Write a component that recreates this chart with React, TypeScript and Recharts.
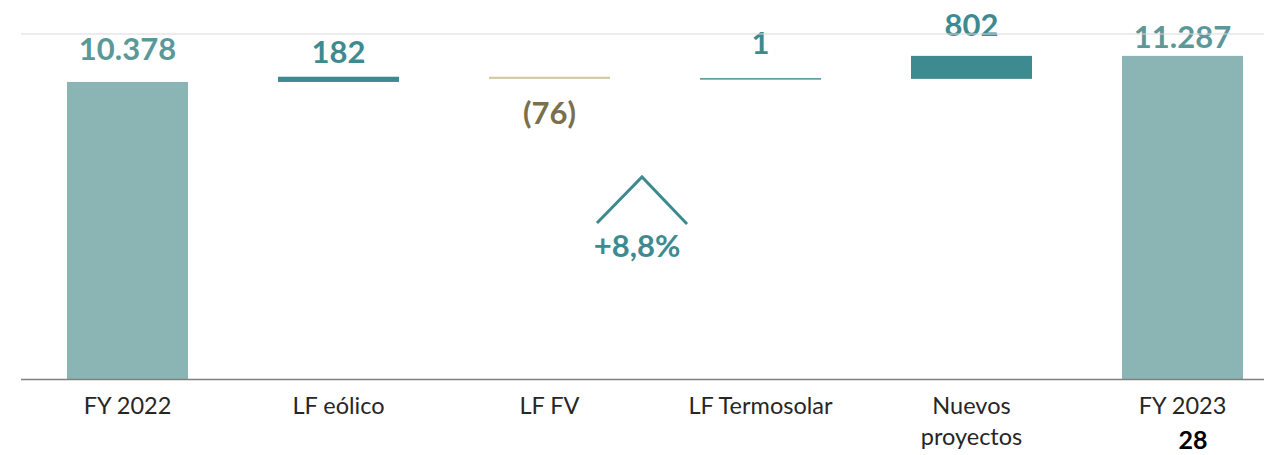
import { BarChart, Bar, XAxis, YAxis, ReferenceLine } from 'recharts';

// waterfall: capacidad instalada FY 2022 -> FY 2023
const categories = ['FY 2022', 'LF eólico', 'LF FV', 'LF Termosolar', 'Nuevos\nproyectos', 'FY 2023'];
const values = [10378, 182, -76, 1, 802, 11287];
const kinds = ['total', 'delta', 'delta', 'delta', 'delta', 'total'];
const growthLabel = '+8,8%';
const pageNumber = '28';

const FONT = "Lato, 'Open Sans', sans-serif";
const TEAL = '#3e8a91';
const TOTAL_FILL = '#8bb5b5';
const TOTAL_TEXT = '#5b9898';
const NEG_FILL = '#d1c9a3';
const NEG_TEXT = '#7a7049';

// label distance from bar edge, per category
const LABEL_GAP = [22, 14, 45, 24, 20, 8];

let running = 0;
const rows = categories.map((name, i) => {
  const v = values[i];
  let range: [number, number];
  if (kinds[i] === 'total') {
    range = [0, v];
    running = v;
  } else {
    const next = running + v;
    range = [Math.min(running, next), Math.max(running, next)];
    running = next;
  }
  return { name, value: v, kind: kinds[i], range };
});

const fmt = (v: number) => {
  const s = Math.abs(v).toString().replace(/\B(?=(\d{3})+(?!\d))/g, '.');
  return v < 0 ? `(${s})` : s;
};

const WaterfallBar = (props: any) => {
  const { x, y, width, height, index, payload } = props;
  const top = Math.min(y, y + height);
  const h = Math.max(Math.abs(height), 1.4);
  const cy = top + Math.abs(height) / 2;
  const ry = cy - h / 2;
  const neg = payload.value < 0;
  const total = payload.kind === 'total';
  const fill = total ? TOTAL_FILL : neg ? NEG_FILL : TEAL;
  const color = total ? TOTAL_TEXT : neg ? NEG_TEXT : TEAL;
  const ly = neg ? ry + h + LABEL_GAP[index] : ry - LABEL_GAP[index];
  return (
    <g>
      <rect x={x} y={ry} width={width} height={h} fill={fill} />
      <text
        x={x + width / 2}
        y={ly}
        textAnchor="middle"
        fontFamily={FONT}
        fontWeight={700}
        fontSize={31}
        fill={color}
      >
        {fmt(payload.value)}
      </text>
    </g>
  );
};

const CategoryTick = (props: any) => {
  const { x, y, payload } = props;
  const lines = String(payload.value).split('\n');
  return (
    <text x={x} y={y} textAnchor="middle" fontFamily={FONT} fontSize={23.5} fill="#262626">
      {lines.map((l, i) => (
        <tspan key={i} x={x} dy={i === 0 ? 26 : 31}>
          {l}
        </tspan>
      ))}
    </text>
  );
};

export default function App() {
  return (
    <div style={{ position: 'absolute', left: 0, top: 0, width: 1264, height: 455, overflow: 'hidden', background: '#fff' }}>
      <BarChart
        width={1300}
        height={455}
        data={rows}
        margin={{ top: 34, right: 12, bottom: 15.5, left: 21 }}
        barCategoryGap={0}
      >
        <XAxis
          dataKey="name"
          height={60}
          interval={0}
          padding={{ left: 1, right: 0 }}
          tickLine={false}
          axisLine={{ stroke: '#808080', strokeWidth: 1.5 }}
          tick={<CategoryTick />}
        />
        <YAxis width={0} domain={[0, 12050]} tick={false} tickLine={false} axisLine={{ stroke: '#d0d0d0' }} />
        <ReferenceLine y={12050} stroke="#d9d9d9" />
        <Bar dataKey="range" barSize={121} isAnimationActive={false} shape={<WaterfallBar />} />
      </BarChart>
      <svg width={1264} height={455} style={{ position: 'absolute', left: 0, top: 0, pointerEvents: 'none' }}>
        <polyline points="597,223 642,177 687,224" fill="none" stroke={TEAL} strokeWidth={3} />
        <text x={637} y={257} textAnchor="middle" fontFamily={FONT} fontWeight={700} fontSize={31} fill={TEAL}>
          {growthLabel}
        </text>
        <text x={1193} y={449} textAnchor="middle" fontFamily={FONT} fontWeight={700} fontSize={25} fill="#000">
          {pageNumber}
        </text>
      </svg>
    </div>
  );
}
